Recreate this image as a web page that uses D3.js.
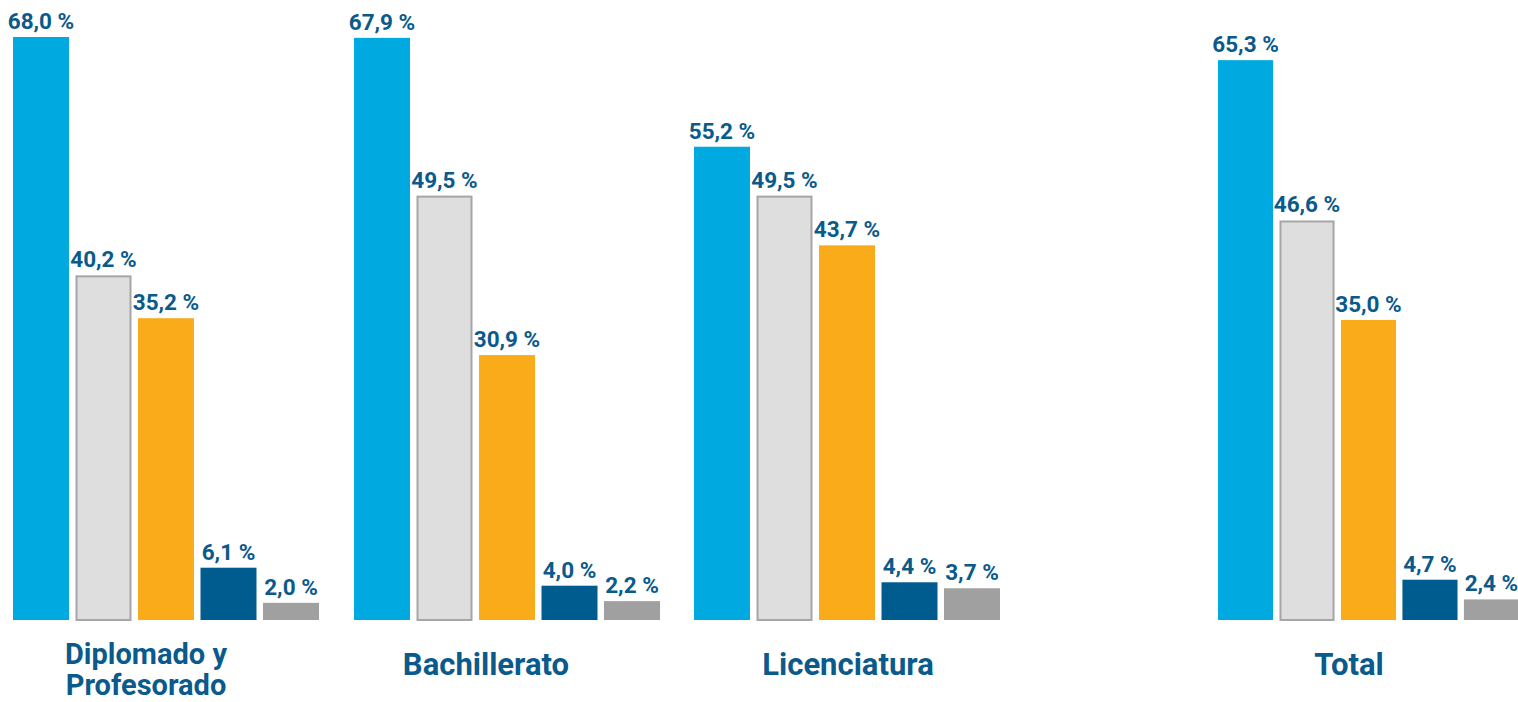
<!DOCTYPE html>
<html>
<head>
<meta charset="utf-8">
<script src="https://cdn.jsdelivr.net/npm/d3@7"></script>
<style>
  body { margin: 0; background: #fff; }
  svg { display: block; font-family: Roboto, "Open Sans", sans-serif; }
</style>
</head>
<body>
<div id="d3"></div>
<script>
var categories = ["Diplomado y\nProfesorado", "Bachillerato", "Licenciatura", "Total"];
var series = ["s1", "s2", "s3", "s4", "s5"];
var values = [
  [68.0, 40.2, 35.2, 6.1, 2.0],
  [67.9, 49.5, 30.9, 4.0, 2.2],
  [55.2, 49.5, 43.7, 4.4, 3.7],
  [65.3, 46.6, 35.0, 4.7, 2.4]
];
var colors = ["#00a9e0", "#dedede", "#f9ab1a", "#005b8f", "#a0a0a0"];

var width = 1518, height = 702, baseline = 620;

var svg = d3.select("#d3").append("svg")
    .attr("width", width)
    .attr("height", height);

// group left edges and widths (Total is set apart)
var x0 = d3.scaleOrdinal().domain(categories).range([13, 354, 694, 1218]);
var gw = d3.scaleOrdinal().domain(categories).range([306, 306, 306, 301]);
var labX = d3.scaleOrdinal().domain(categories).range([133, 132, 154, 131]);
var y = d3.scaleLinear().domain([0, 68]).range([baseline, 37]);

function x1For(c) {
    return d3.scaleBand().domain(series).range([0, gw(c)]).paddingInner(0.104);
}

var data = [];
categories.forEach(function(c, i) {
    series.forEach(function(s, j) {
        data.push({cat: c, s: s, j: j, v: values[i][j]});
    });
});

var g = svg.selectAll("g.grp")
    .data(categories).enter()
    .append("g")
    .attr("class", "grp")
    .attr("transform", function(d) { return "translate(" + x0(d) + ",0)"; });

g.each(function(c) {
    var x1 = x1For(c);
    var rows = data.filter(function(d) { return d.cat === c; });
    var sel = d3.select(this);

    sel.selectAll("rect")
        .data(rows).enter()
        .append("rect")
        .attr("x", function(d) { return x1(d.s) + (d.j === 1 ? 1 : 0); })
        .attr("y", function(d) { return y(d.v) + (d.j === 1 ? 1 : 0); })
        .attr("width", function(d) { return x1.bandwidth() - (d.j === 1 ? 2 : 0); })
        .attr("height", function(d) { return baseline - y(d.v) - (d.j === 1 ? 1 : 0); })
        .attr("fill", function(d) { return colors[d.j]; })
        .attr("stroke", function(d) { return d.j === 1 ? "#a6a6a6" : "none"; })
        .attr("stroke-width", 2);

    sel.selectAll("text.val")
        .data(rows).enter()
        .append("text")
        .attr("class", "val")
        .attr("x", function(d) { return x1(d.s) + x1.bandwidth() / 2; })
        .attr("y", function(d) { return y(d.v) - 8; })
        .attr("text-anchor", "middle")
        .attr("font-size", "22.5px")
        .attr("font-weight", "bold")
        .attr("fill", "#0a5a8c")
        .text(function(d) { return d.v.toFixed(1).replace(".", ",") + " %"; });
});

var lab = g.append("text")
    .attr("text-anchor", "middle")
    .attr("font-size", function(c) { return c.indexOf("\n") > -1 ? "29px" : "31px"; })
    .attr("font-weight", "bold")
    .attr("fill", "#0a5a8c");

lab.selectAll("tspan")
    .data(function(c) {
        var lines = c.split("\n");
        return lines.map(function(t, k) { return {t: t, k: k, n: lines.length, c: c}; });
    }).enter()
    .append("tspan")
    .attr("x", function(d) { return labX(d.c); })
    .attr("y", function(d) { return d.n > 1 ? 664 + d.k * 31 : 675; })
    .text(function(d) { return d.t; });
</script>
</body>
</html>
